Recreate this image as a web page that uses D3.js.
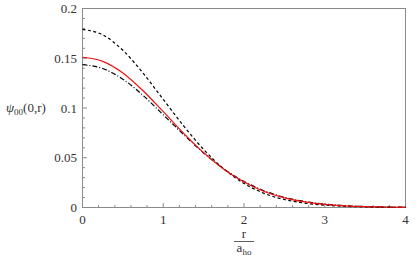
<!DOCTYPE html>
<html>
<head>
<meta charset="utf-8">
<script src="https://cdn.jsdelivr.net/npm/d3@7"></script>
<style>
  body { margin: 0; background: #fff; }
</style>
</head>
<body>
<svg id="chart" width="416" height="257"></svg>
<script>
// r / a_ho sample points
const r_values = [0, 0.25, 0.5, 0.75, 1, 1.25, 1.5, 1.75, 2, 2.25, 2.5, 2.75, 3, 3.25, 3.5, 3.75, 4];
// dashed black curve
const dashed_values = [0.179, 0.1735, 0.158, 0.135, 0.1086, 0.0823, 0.0584, 0.0388, 0.0242, 0.0142, 0.0080, 0.0044, 0.0024, 0.0012, 0.0006, 0.0003, 0.0001];
// solid red curve
const red_values = [0.151, 0.1469, 0.1352, 0.1173, 0.0963, 0.0748, 0.0551, 0.0385, 0.0256, 0.0161, 0.0097, 0.0056, 0.0032, 0.0017, 0.0009, 0.0005, 0.0002];
// dash-dot black curve
const dashdot_values = [0.1435, 0.1397, 0.1290, 0.1126, 0.0931, 0.0735, 0.0548, 0.0388, 0.0262, 0.0168, 0.0103, 0.0061, 0.0034, 0.0019, 0.0010, 0.0005, 0.0003];

const x_ticks = [0, 1, 2, 3, 4];
const y_ticks = [0, 0.05, 0.1, 0.15, 0.2];
const y_tick_labels = ["0", "0.05", "0.1", "0.15", "0.2"];

const svg = d3.select("#chart");
const plotLeft = 82.5, plotRight = 405.5, plotTop = 8.5, plotBottom = 207.5;

const xScale = d3.scaleLinear().domain([0, 4]).range([plotLeft, plotRight]);
const yScale = d3.scaleLinear().domain([0, 0.2]).range([plotBottom, plotTop]);

const frameColor = '#8a8a8a';
const fontFamily = '"Liberation Serif", "Times New Roman", serif';
const textColor = '#333';

// frame
svg.append('rect')
    .attr('x', plotLeft).attr('y', plotTop)
    .attr('width', plotRight - plotLeft).attr('height', plotBottom - plotTop)
    .attr('fill', 'none')
    .attr('stroke', frameColor)
    .attr('stroke-width', 1);

// minor + major ticks, pointing inward
const xMinor = d3.range(0, 4.0001, 0.2);
svg.append('g').selectAll('line')
    .data(xMinor)
    .enter().append('line')
    .attr('x1', d => xScale(d)).attr('x2', d => xScale(d))
    .attr('y1', plotBottom)
    .attr('y2', (d, i) => plotBottom - (i % 5 === 0 ? 4.5 : 2.5))
    .attr('stroke', frameColor);

const yMinor = d3.range(0, 0.2001, 0.01);
svg.append('g').selectAll('line')
    .data(yMinor)
    .enter().append('line')
    .attr('y1', d => yScale(d)).attr('y2', d => yScale(d))
    .attr('x1', plotLeft)
    .attr('x2', (d, i) => plotLeft + (i % 5 === 0 ? 4.5 : 2.5))
    .attr('stroke', frameColor);

// tick labels
svg.append('g').selectAll('text')
    .data(x_ticks)
    .enter().append('text')
    .attr('x', d => xScale(d))
    .attr('y', 224)
    .attr('text-anchor', 'middle')
    .style('font-family', fontFamily)
    .style('font-size', '13px')
    .style('fill', textColor)
    .text(d => d);

svg.append('g').selectAll('text')
    .data(y_ticks)
    .enter().append('text')
    .attr('x', 77)
    .attr('y', d => yScale(d) + 4.5)
    .attr('text-anchor', 'end')
    .style('font-family', fontFamily)
    .style('font-size', '13px')
    .style('fill', textColor)
    .text((d, i) => y_tick_labels[i]);

// y label
const yl = svg.append('text')
    .attr('x', 6).attr('y', 112)
    .style('font-family', fontFamily)
    .style('font-size', '13px')
    .style('fill', textColor);
yl.append('tspan').style('font-style', 'italic').text('ψ');
yl.append('tspan').attr('dy', 3).style('font-size', '9px').text('00');
yl.append('tspan').attr('dy', -3).text('(0,r)');

// x label: fraction r / a_ho
const xc = xScale(2);
svg.append('text')
    .attr('x', xc).attr('y', 238)
    .attr('text-anchor', 'middle')
    .style('font-family', fontFamily)
    .style('font-size', '13px')
    .style('fill', textColor)
    .text('r');
svg.append('line')
    .attr('x1', xc - 10).attr('x2', xc + 10)
    .attr('y1', 241.5).attr('y2', 241.5)
    .attr('stroke', textColor).attr('stroke-width', 0.8);
const xl = svg.append('text')
    .attr('x', xc).attr('y', 252)
    .attr('text-anchor', 'middle')
    .style('font-family', fontFamily)
    .style('font-size', '13px')
    .style('fill', textColor);
xl.append('tspan').text('a');
xl.append('tspan').attr('dy', 3).style('font-size', '9px').text('ho');

// curves
const line = d3.line()
    .x(d => xScale(d[0]))
    .y(d => yScale(d[1]))
    .curve(d3.curveMonotoneX);

const series = [
    { values: dashed_values, color: '#000', dash: '3,2.5' },
    { values: dashdot_values, color: '#000', dash: '5,2,1,2' },
    { values: red_values, color: '#ee1111', dash: null }
];

series.forEach(s => {
    svg.append('path')
        .datum(r_values.map((r, i) => [r, s.values[i]]))
        .attr('d', line)
        .attr('fill', 'none')
        .attr('stroke', s.color)
        .attr('stroke-width', 1.2)
        .attr('stroke-dasharray', s.dash);
});
</script>
</body>
</html>
